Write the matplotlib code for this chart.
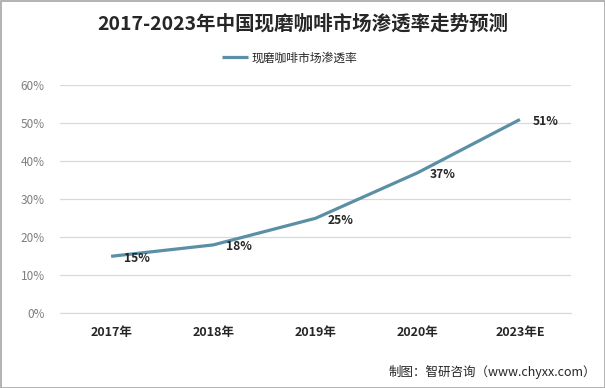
import matplotlib
matplotlib.use("Agg")
import matplotlib.pyplot as plt
from matplotlib.patches import Rectangle

plt.rcParams['font.family'] = ['Noto Sans CJK SC', 'DejaVu Sans']

categories = ["2017年", "2018年", "2019年", "2020年", "2023年E"]
values = [15, 18, 25, 37, 51]
labels = ["15%", "18%", "25%", "37%", "51%"]
yticks = [0, 10, 20, 30, 40, 50, 60]
series_name = "现磨咖啡市场渗透率"
title = "2017-2023年中国现磨咖啡市场渗透率走势预测"
source = "制图：智研咨询（www.chyxx.com）"

line_color = "#5b8fa5"

fig = plt.figure(figsize=(6.05, 3.88), dpi=100)
ax = fig.add_axes([60/605, 1-313.3/388, (571-60)/605, (313.3-85.3)/388])

x = list(range(len(categories)))
ax.plot(x, values, color=line_color, lw=2.3, solid_capstyle='butt', label=series_name, zorder=3)
for xi, v, lb in zip(x, values, labels):
    ax.annotate(lb, (xi, v), xytext=(9, -1.5), textcoords='offset points',
                ha='left', va='center', fontsize=8.7, fontweight='bold', color='#262626', zorder=4)

ax.set_xlim(-0.5, len(categories) - 0.5)
ax.set_ylim(0, 60)
ax.set_yticks(yticks)
ax.set_yticklabels([f"{t}%" for t in yticks], fontsize=8.5, color='#7f7f7f')
ax.set_xticks(x)
ax.set_xticklabels(categories, fontsize=9, fontweight='bold', color='#262626')
ax.tick_params(axis='both', length=0)
ax.tick_params(axis='y', pad=11)
ax.tick_params(axis='x', pad=9)
ax.grid(axis='y', color='#d9d9d9', lw=0.9)
ax.set_axisbelow(True)
for s in ['top', 'right', 'left']:
    ax.spines[s].set_visible(False)
ax.spines['bottom'].set_color('#d9d9d9')

fig.text(0.5, 1-24/388, title, ha='center', va='center', fontsize=14, fontweight='bold', color='#262626')
leg = fig.legend(loc='center', bbox_to_anchor=(290/605, 1-58/388), frameon=False,
                 fontsize=8.5, handlelength=2.2, handletextpad=0.3)
for t in leg.get_texts():
    t.set_color('#262626')

fig.text(596/605, 1-372/388, source, ha='right', va='center', fontsize=9, color='#262626')

fig.patches.append(Rectangle((0.5/605, 0.5/388), 1-1/605, 1-1/388, transform=fig.transFigure,
                             fill=False, edgecolor='#a6a6a6', lw=1.2))

fig.savefig("out.png", dpi=100)
